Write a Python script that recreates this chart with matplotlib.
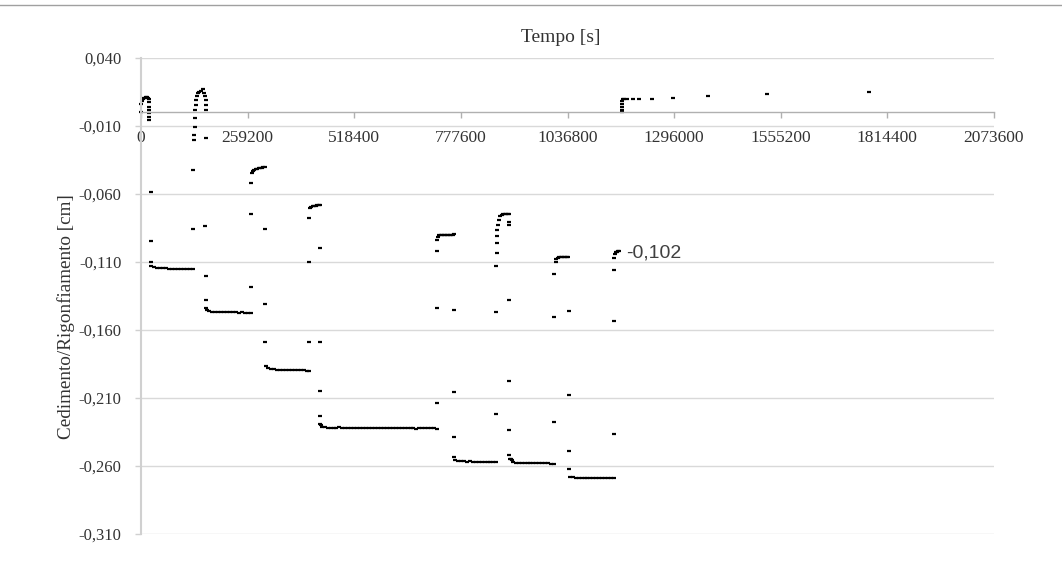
import numpy as np
import matplotlib
matplotlib.use("Agg")
import matplotlib.pyplot as plt
from matplotlib.lines import Line2D

plt.rcParams["font.family"] = ["Liberation Serif", "DejaVu Serif"]

# Tempo in ore dall'inizio della prova, cedimento/rigonfiamento in cm
ore_rig0 = [0.0, 0.3, 0.7, 1.4, 2.0, 2.7, 3.4, 4.1, 4.7, 5.2, 5.4, 5.4, 5.4, 5.4, 5.4, 5.4]
ced_rig0 = [0.0003, 0.0065, 0.0085, 0.0098, 0.0104, 0.0109, 0.0112, 0.0113, 0.0108, 0.0095,
            0.0075, 0.0040, 0.0018, -0.0004, -0.0034, -0.0056]

ore_g1 = [6.6, 6.6, 6.6, 7.0, 9, 11, 13, 15, 17, 19, 21, 23, 25, 27, 29, 31, 33, 35]
ced_g1 = [-0.0585, -0.0946, -0.1100, -0.1132, -0.1140, -0.1143, -0.1145, -0.1147, -0.1146,
          -0.1148, -0.1149, -0.1148, -0.1150, -0.1151, -0.1150, -0.1152, -0.1153, -0.1153]

ore_r1 = [35.1, 35.1, 35.8, 35.8, 36.5, 36.5, 36.5, 37.2, 37.2, 37.9, 38.5, 39.2, 40.6, 41.9,
          42.6, 43.3, 43.9, 43.9, 43.9, 43.9]
ced_r1 = [-0.0424, -0.0857, -0.0203, -0.0166, -0.0107, -0.0041, 0.0018, 0.0054, 0.0091, 0.0121,
          0.0143, 0.0150, 0.0157, 0.0172, 0.0143, 0.0121, 0.0091, 0.0054, 0.0018, -0.0188]

ore_g2 = [43.3, 43.9, 43.9, 43.9, 44.6, 46, 48, 50, 52, 54, 56, 58, 60, 62, 64, 66, 68, 70, 72, 74]
ced_g2 = [-0.0835, -0.1203, -0.1379, -0.1438, -0.1455, -0.1462, -0.1465, -0.1467, -0.1466, -0.1468,
          -0.1469, -0.1468, -0.1470, -0.1471, -0.1470, -0.1472, -0.1471, -0.1473, -0.1473, -0.1474]

ore_s3 = [74.4, 74.4, 74.4, 74.8, 75.5, 76.5, 77.5, 78.5, 79.5, 80.5, 81.5, 82.5, 83.5]
ced_s3 = [-0.0519, -0.0747, -0.1284, -0.0446, -0.0432, -0.0424, -0.0419, -0.0415, -0.0412,
          -0.0410, -0.0407, -0.0405, -0.0403]

ore_g4 = [83.8, 83.8, 83.8, 84.5, 86, 88, 90, 92, 94, 96, 98, 100, 102, 104, 106, 108, 110, 112, 113.4]
ced_g4 = [-0.0857, -0.1409, -0.1688, -0.1865, -0.1880, -0.1886, -0.1889, -0.1891, -0.1892, -0.1893,
          -0.1894, -0.1894, -0.1895, -0.1896, -0.1896, -0.1897, -0.1897, -0.1898, -0.1898]

ore_s5 = [113.6, 113.6, 113.6, 114.0, 115, 116, 117, 118, 119, 120, 121]
ced_s5 = [-0.0776, -0.1100, -0.1688, -0.0700, -0.0694, -0.0690, -0.0688, -0.0686, -0.0684,
          -0.0683, -0.0682]

ore_g5 = [121.0, 121.0, 121.0, 121.0, 121.0, 121.7, 122.5,
          124, 126, 128, 130, 132, 134, 136, 138, 140, 142, 144, 146, 148, 150,
          152, 154, 156, 158, 160, 162, 164, 166, 168, 170, 172, 174, 176, 178,
          180, 182, 184, 186, 188, 190, 192, 194, 196, 198, 200]
ced_g5 = [-0.0997, -0.1688, -0.2049, -0.2232, -0.2291, -0.2302, -0.2310,
          -0.2315, -0.2320, -0.2317, -0.2322, -0.2318, -0.2316, -0.2321, -0.2319, -0.2323, -0.2318,
          -0.2320, -0.2324, -0.2319, -0.2321,
          -0.2317, -0.2322, -0.2320, -0.2318, -0.2323, -0.2321, -0.2319, -0.2324, -0.2320, -0.2322,
          -0.2318, -0.2323, -0.2321, -0.2319,
          -0.2324, -0.2322, -0.2320, -0.2325, -0.2321, -0.2323, -0.2319, -0.2324, -0.2322, -0.2320,
          -0.2325]

ore_s6 = [200.1, 200.1, 200.1, 200.1, 200.5, 201.5, 202.5, 203.5, 204.5, 205.5, 206.5, 207.5,
          208.5, 209.5, 210.5, 211.5]
ced_s6 = [-0.1438, -0.2137, -0.1019, -0.0938, -0.0915, -0.0905, -0.0902, -0.0901, -0.0900,
          -0.0900, -0.0899, -0.0899, -0.0898, -0.0898, -0.0898, -0.0897]

ore_g6 = [211.6, 211.6, 211.6, 211.6, 212.3, 214, 216, 218, 220, 222, 224, 226, 228, 230, 232,
          234, 236, 238, 239.7]
ced_g6 = [-0.1453, -0.2056, -0.2387, -0.2534, -0.2555, -0.2562, -0.2565, -0.2566, -0.2567,
          -0.2566, -0.2568, -0.2567, -0.2569, -0.2568, -0.2569, -0.2570, -0.2569, -0.2570, -0.2571]

ore_s7 = [240.0, 240.0, 240.0, 240.7, 240.7, 240.7, 240.7, 241.4, 242.0, 242.7, 243.5, 244.5,
          245.5, 246.5, 247.5, 248.3, 248.8, 248.8]
ced_s7 = [-0.1468, -0.2218, -0.1129, -0.1034, -0.0960, -0.0909, -0.0865, -0.0828, -0.0791,
          -0.0762, -0.0752, -0.0749, -0.0748, -0.0747, -0.0747, -0.0748, -0.0806, -0.0828]

ore_g7 = [248.8, 248.8, 248.8, 248.8, 249.3, 249.8, 250.2, 251, 253, 255, 257, 259, 261, 263,
          265, 267, 269, 271, 273, 275, 277, 279]
ced_g7 = [-0.1379, -0.1975, -0.2335, -0.2519, -0.2545, -0.2552, -0.2558, -0.2572, -0.2576,
          -0.2577, -0.2578, -0.2578, -0.2579, -0.2579, -0.2580, -0.2580, -0.2580, -0.2581,
          -0.2581, -0.2581, -0.2582, -0.2582]

ore_s8 = [279.2, 279.2, 279.2, 279.9, 280.5, 281.5, 282.5, 283.5, 284.5, 285.5, 286.5, 287.5, 288.3]
ced_s8 = [-0.1504, -0.2276, -0.1188, -0.1100, -0.1078, -0.1070, -0.1066, -0.1064, -0.1063,
          -0.1062, -0.1061, -0.1061, -0.1060]

ore_g8 = [288.7, 288.7, 288.7, 288.7, 289.5, 291.5, 293.5, 295.5, 297.5, 299.5, 301.5, 303.5,
          305.5, 307.5, 309.5, 311.5, 313.5, 315.5, 317.5, 319.5]
ced_g8 = [-0.1460, -0.2078, -0.2490, -0.2622, -0.2678, -0.2683, -0.2685, -0.2686, -0.2686,
          -0.2687, -0.2687, -0.2688, -0.2688, -0.2688, -0.2689, -0.2689, -0.2689, -0.2690,
          -0.2690, -0.2690]

ore_s9 = [319.7, 319.7, 319.7, 319.7, 320.3, 321.0, 321.7, 322.4, 323.1]
ced_s9 = [-0.1534, -0.2365, -0.1159, -0.1071, -0.1040, -0.1030, -0.1025, -0.1022, -0.1020]

ore_rig = [324.5, 324.5, 324.5, 324.5, 324.5, 325.2, 326.0, 327.9, 331.9, 336.6, 344.8, 359.0,
           382.6, 422.5, 491.5]
ced_rig = [0.0003, 0.0018, 0.0040, 0.0062, 0.0084, 0.0099, 0.0100, 0.0099, 0.0099, 0.0100,
           0.0100, 0.0106, 0.0121, 0.0135, 0.0150]

fasi = [(ore_rig0, ced_rig0), (ore_g1, ced_g1), (ore_r1, ced_r1), (ore_g2, ced_g2),
        (ore_s3, ced_s3), (ore_g4, ced_g4), (ore_s5, ced_s5), (ore_g5, ced_g5),
        (ore_s6, ced_s6), (ore_g6, ced_g6), (ore_s7, ced_s7), (ore_g7, ced_g7),
        (ore_s8, ced_s8), (ore_g8, ced_g8), (ore_s9, ced_s9), (ore_rig, ced_rig)]

x_ticks = [0, 259200, 518400, 777600, 1036800, 1296000, 1555200, 1814400, 2073600]
x_labels = ["0", "259200", "518400", "777600", "1036800", "1296000", "1555200", "1814400", "2073600"]
y_ticks = [0.040, -0.010, -0.060, -0.110, -0.160, -0.210, -0.260, -0.310]
y_labels = ["0,040", "-0,010", "-0,060", "-0,110", "-0,160", "-0,210", "-0,260", "-0,310"]

W, H = 1062, 585
fig = plt.figure(figsize=(W / 100, H / 100), dpi=100)
ax = fig.add_axes([141 / W, 1 - 534 / H, (994 - 141) / W, (534 - 58) / H])

txt = "#333333"

for ore, ced in fasi:
    ax.plot(np.asarray(ore) * 3600.0, ced, linestyle="none", marker="_",
            markersize=3.0, markeredgewidth=1.6, color="black", clip_on=False)

ax.set_xlim(0, 2073600)
ax.set_ylim(-0.310, 0.040)
ax.set_xticks(x_ticks)
ax.set_xticklabels(x_labels)
ax.set_yticks(y_ticks)
ax.set_yticklabels(y_labels)

ax.yaxis.grid(True, color="#d9d9d9", linewidth=1.0)
ax.set_axisbelow(True)
for s in ("top", "right"):
    ax.spines[s].set_visible(False)
ax.spines["bottom"].set_position(("data", 0))
ax.spines["bottom"].set_color("#b0b0b0")
ax.spines["bottom"].set_linewidth(1.0)
ax.spines["left"].set_color("#d0d0d0")
ax.spines["left"].set_linewidth(1.5)
ax.tick_params(axis="x", direction="out", length=4, width=1, color="#b0b0b0", pad=9,
               labelsize=12.5, labelcolor=txt)
ax.tick_params(axis="y", direction="out", length=4, width=1, color="#d0d0d0", pad=10,
               labelsize=12, labelcolor=txt)

fig.text(561 / W, 1 - 37 / H, "Tempo [s]", ha="center", va="center",
         fontsize=14, color=txt)
fig.text(66 / W, 1 - 317 / H, "Cedimento/Rigonfiamento [cm]", rotation=90,
         ha="center", va="center", fontsize=13.8, color=txt)

ultimo = ced_s9[-1]
ax.annotate(f"{ultimo:.3f}".replace(".", ","), xy=(ore_s9[-1] * 3600.0, ultimo),
            xytext=(5, -1), textcoords="offset points", ha="left", va="center",
            family=["Liberation Sans", "DejaVu Sans"], fontsize=14, color="#404040")

fig.add_artist(Line2D([0, 1], [1 - 5 / H, 1 - 5 / H], transform=fig.transFigure,
                      color="#a0a0a0", linewidth=1.0))

fig.savefig("out.png", dpi=100)
